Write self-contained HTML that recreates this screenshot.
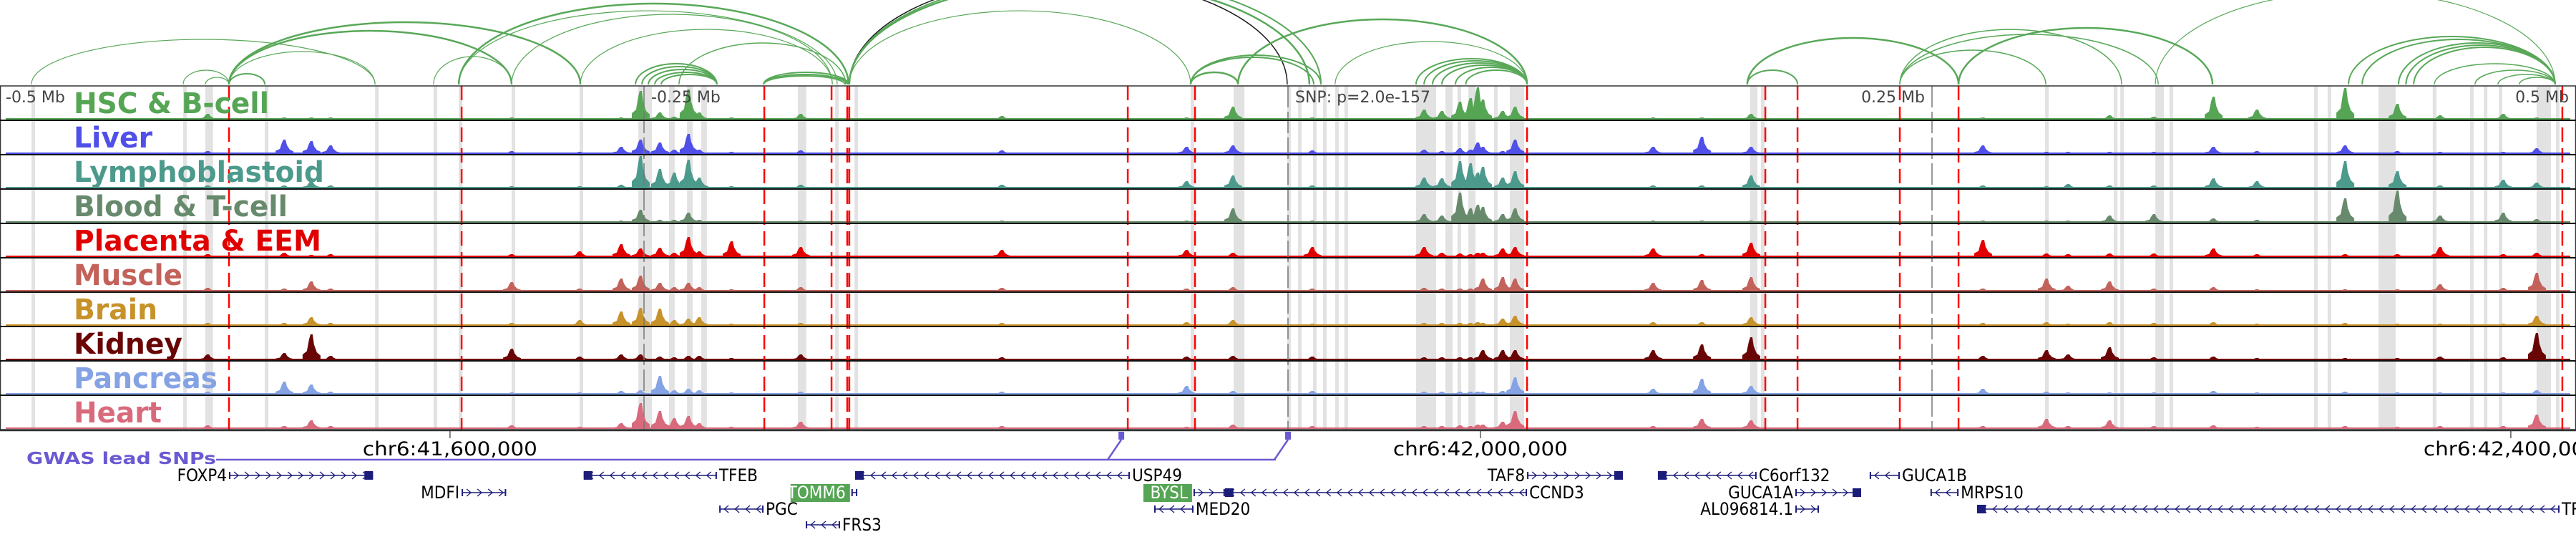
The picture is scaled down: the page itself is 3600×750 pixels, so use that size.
<!DOCTYPE html>
<html><head><meta charset="utf-8">
<style>
html,body{margin:0;padding:0;background:#fff;}
svg{display:block;}
text{font-family:"DejaVu Sans","Liberation Sans",sans-serif;}
.cond{font-family:"DejaVu Sans Condensed","DejaVu Sans","Liberation Sans",sans-serif;}
</style></head>
<body>
<svg id="chart" width="3600" height="750" viewBox="0 0 3600 750" xmlns="http://www.w3.org/2000/svg">
<g id="bands"></g>
<g id="tracks"></g>
<g id="vlines"></g>
<g id="arcs"></g>
<g id="frame"></g>
<g id="labels"></g>
<g id="axis"></g>
<g id="gwas"></g>
<g id="genes"></g>
</svg>
<script>
// ---- data ----
const snpPos = 41925300;            // lead SNP (bp)
const trackNames = ["HSC & B-cell","Liver","Lymphoblastoid","Blood & T-cell","Placenta & EEM","Muscle","Brain","Kidney","Pancreas","Heart"];
const trackColors = ["#55a555","#5050e8","#4c9a8c","#678a6c","#e00000","#c3625a","#c8922a","#6a0505","#84a2e4","#d86a7c"];
const labelWidths = [273,110,350,299,346,152,117,152,201,123];
// peak positions: offset from SNP in kb
const peakKb = [-419.4,-389.7,-379.2,-371.7,-301.4,-275.0,-258.9,-251.4,-243.9,-238.3,-232.8,-228.6,-216.1,-189.2,-111.1,-39.4,-21.4,9.4,52.8,59.7,66.7,70.8,73.6,75.6,83.3,88.1,141.7,160.6,179.7,269.7,294.4,302.8,318.9,336.1,359.2,376.1,410.3,430.6,447.2,471.7,484.7];
// heights (px) per track at each peak
const hHSC   = [8,3,3,3,3,2,3,40,10,4,42,10,3,8,5,3,18,3,14,12,25,30,45,28,12,18,3,3,8,3,2,2,6,4,32,14,44,22,6,8,3];
const hLiver = [4,20,18,12,4,3,10,20,16,6,28,6,3,5,5,10,12,5,6,4,8,6,16,10,4,20,10,24,10,12,3,3,3,3,10,4,12,4,3,3,8];
const hLymph = [4,4,10,4,3,3,5,45,27,22,40,15,3,5,5,10,18,4,15,14,38,35,22,30,15,24,4,4,18,4,3,6,4,4,14,10,38,24,4,12,8];
const hBlood = [2,2,2,2,2,2,3,18,4,4,14,4,2,3,3,3,20,3,12,10,42,20,25,22,12,20,3,3,3,3,3,3,10,12,6,4,34,46,10,14,5];
const hPlac  = [4,6,3,4,4,8,18,12,13,6,28,8,22,14,10,10,6,14,14,6,5,4,6,6,12,14,12,4,20,24,5,4,5,5,12,4,4,4,14,4,6];
const hMuscle= [5,4,14,4,13,4,18,22,12,6,12,6,3,6,5,4,6,4,5,4,4,4,6,18,20,18,12,16,20,4,18,8,14,4,6,3,3,3,10,5,26];
const hBrain = [4,4,12,4,4,8,20,25,24,8,10,12,3,4,4,5,8,3,4,4,4,4,5,4,10,14,5,5,12,4,5,3,5,4,5,3,4,3,3,3,14];
const hKidney= [8,10,36,6,16,5,8,8,5,4,6,6,3,8,4,5,6,5,4,4,4,4,4,14,14,14,14,22,32,6,14,8,18,4,5,3,3,3,5,4,38];
const hPanc  = [4,18,14,4,3,3,5,6,26,6,8,6,3,4,4,12,5,5,4,4,4,4,4,4,5,24,8,22,12,8,4,3,3,3,5,3,4,3,3,3,6];
const hHeart = [5,4,12,4,5,3,8,36,25,15,18,8,3,10,4,3,6,4,4,4,5,4,6,6,10,25,4,14,12,4,14,4,12,4,5,3,4,3,4,4,20];
const heights = [hHSC,hLiver,hLymph,hBlood,hPlac,hMuscle,hBrain,hKidney,hPanc,hHeart];
// gray highlight bands (kb offset, width kb)
const bandKb = [-487.8,-428.9,-420.3,-397.2,-354.4,-331.7,-321.9,-301.4,-275.0,-252.2,-240.3,-233.3,-227.8,-190.3,-175.8,-168.3,-37.8,-21.1,-0.3,3.9,9.7,13.6,18.3,21.9,49.7,56.1,61.1,65.8,70.0,80.0,86.1,179.4,183.6,293.9,320.6,323.1,336.7,342.2,398.3,403.6,423.3,427.2,444.4,458.9,464.2,470.0,484.7,492.2];
const bandW  = [1.4,1.4,3.0,1.4,1.4,1.4,1.4,1.4,1.4,5.3,2.2,2.2,2.2,3.3,1.4,1.4,1.4,4.2,1.4,1.4,1.4,1.4,1.4,1.4,6.7,1.4,2.8,1.4,2.8,1.4,5.6,2.8,1.4,1.4,1.4,1.4,3.3,1.4,1.4,1.4,3.9,2.8,1.4,1.4,1.4,1.4,5.6,1.4];
// red dashed lines (kb offset)
const redKb = [-411.1,-320.8,-203.3,-177.2,-171.1,-170.3,-62.2,-36.1,92.8,185.3,197.8,237.5,260.3,494.7];
// loops: anchors (kb offset) and apex heights (px above baseline)
const loopA = [-487.8,-428.9,-420.3,-411.1,-411.1,-411.1,-411.1,-331.7,-321.9,-321.9,-301.4,-274.7,-253.3,-250.8,-248.3,-245.8,-243.3,-236.4,-203.6,-203.6,-203.6,-170.3,-170.3,-170.3,-170.3,-37.8,-37.8,-37.8,-19.4,18.3,49.7,52.8,56.1,59.7,65.0,69.0,178.3,178.3,237.5,237.5,237.5,260.3,336.7,411.7,417.0,431.1,434.0,437.0,445.0,460.8,469.7,478.0];
const loopB = [-354.4,-411.1,-411.1,-397.2,-274.7,-301.4,-354.4,-301.4,-170.6,-175.0,-176.9,-176.9,-221.7,-221.7,-221.7,-221.7,-221.7,-171.7,-170.6,-171.0,-172.0,-37.8,-0.3,8.3,12.8,-19.4,12.8,10.0,92.8,92.8,92.8,92.8,92.8,92.8,92.8,92.8,197.8,260.3,294.2,323.6,337.8,358.9,491.9,491.9,491.9,491.9,491.9,491.9,491.9,491.9,491.9,491.9];
const loopH = [63,20,10,15,87,75,46,39,113,103,98,77,29,25,21,17,14,58,17,14,12,103,150,145,150,17,41,38,91,60,36,33,30,27,24,20,20,65,48,77,70,79,130,67,63,58,55,52,29,20,14,10];
const loopW = [1.2,1.2,1.2,2,2.5,2.5,1.2,1.2,2.5,1.2,1.2,1.2,2,2,2,2,2,1.5,2,2,2,1.2,1.5,2.5,2,2.5,2,2,2.5,1.2,2,2,2,2,2,2,2,2.5,1.5,1.5,1.5,2.5,1.2,2,2,2,2,2,1.5,1.5,1.5,1.5];
const loopDark = 22;
// GWAS SNPs (bp)
const gwasPos = [41860600,41925300];
// genes: name, start bp, end bp, strand, row, highlighted
const geneNames  = ["FOXP4","TFEB","USP49","TAF8","C6orf132","GUCA1B","MDFI","TOMM6","BYSL","CCND3","GUCA1A","MRPS10","PGC","MED20","AL096814.1","TRERF1","FRS3"];
const geneStart  = [41514200,41651900,41757250,42018100,42068900,42151100,41604500,41755800,41888600,41900800,42122250,42174700,41704500,41873350,42122250,42192800,41738100];
const geneEnd    = [41570100,41703600,41863900,42055300,42107200,42162800,41621800,41758100,41900800,42018100,42147800,42185600,41721700,41888600,42131400,42418900,41751400];
const geneStrand = [1,-1,-1,1,-1,-1,1,1,1,-1,1,-1,-1,-1,1,-1,-1];
const geneRow    = [0,0,0,0,0,0,1,1,1,1,1,1,2,2,2,2,3];
const geneHi     = [0,0,0,0,0,0,0,1,1,0,0,0,0,0,0,0,0];
const axisTicks = [-500,-250,0,250,500];
const axisTickLabels = ["-0.5 Mb","-0.25 Mb","SNP: p=2.0e-157","0.25 Mb","0.5 Mb"];
const chrTicks = [41600000,42000000,42400000];
const chrTickLabels = ["chr6:41,600,000","chr6:42,000,000","chr6:42,400,000"];

// ---- scales ----
const NS="http://www.w3.org/2000/svg";
const X0=1800, PXKB=3.6, TOP=120, TH=48, NT=10, BOT=TOP+TH*NT;
const xKb = kb => X0 + kb*PXKB;
const xBp = bp => X0 + (bp - snpPos)/1000*PXKB;
function mk(tag, parent, attrs){const e=document.createElementNS(NS,tag);for(const k in attrs)e.setAttribute(k,attrs[k]);parent.appendChild(e);return e;}
const G=id=>document.getElementById(id);

// bands
bandKb.forEach((b,i)=>{
  const e=mk('rect',G('bands'),{x:xKb(b),y:TOP,width:Math.max(3,bandW[i]*PXKB),height:BOT-TOP,fill:'#e2e2e2'});
  
  
});
// tracks
heights.forEach((hs,t)=>{
  const base=TOP+TH*(t+1)-1, col=trackColors[t];
  const g=mk('g',G('tracks'),{fill:col});
  
  
  mk('rect',g,{x:8,y:base-2,width:3584,height:2});
  peakKb.forEach((p,i)=>{
    const h=Math.min(hs[i],TH-3), x=xKb(p);
    const e=mk('path',g,{d:`M${x-12},${base} L${x-12},${base-h*0.22} L${x-6},${base-h*0.35} L${x-3},${base-h*0.8} L${x-1},${base-h} L${x+2},${base-h} L${x+4},${base-h*0.6} L${x+8},${base-h*0.3} L${x+13},${base-h*0.18} L${x+13},${base} Z`});
    
    
  });
});
// gray tick lines
axisTicks.slice(1,4).forEach(k=>{
  const e=mk('line',G('vlines'),{x1:xKb(k),x2:xKb(k),y1:TOP,y2:BOT,stroke:'#777','stroke-width':1.5,'stroke-dasharray':'30,6'});
  
  
});
redKb.forEach(k=>{
  const e=mk('line',G('vlines'),{x1:xKb(k),x2:xKb(k),y1:TOP,y2:BOT,stroke:'#f00','stroke-width':2.5,'stroke-dasharray':'20,9'});
  
  
});
// loops
loopA.forEach((a,i)=>{
  const x1=xKb(a), x2=xKb(loopB[i]), rx=Math.abs(x2-x1)/2, ry=loopH[i];
  const dark = i===loopDark;
  const e=mk('path',G('arcs'),{d:`M${Math.min(x1,x2)},${TOP-2} A${rx},${ry} 0 0 1 ${Math.max(x1,x2)},${TOP-2}`,fill:'none',stroke:dark?'#1a1a1a':'#58a858','stroke-width':loopW[i]});
  
  
});
// frame
mk('rect',G('frame'),{x:0.5,y:TOP,width:3599,height:BOT-TOP,fill:'none',stroke:'#333','stroke-width':1.5});
for(let t=1;t<NT;t++){mk('line',G('frame'),{x1:0,x2:3600,y1:TOP+TH*t,y2:TOP+TH*t,stroke:'#111','stroke-width':2});}
mk('line',G('frame'),{x1:0,x2:3600,y1:BOT+1,y2:BOT+1,stroke:'#333','stroke-width':2.5});
// track labels
trackNames.forEach((n,t)=>{
  const e=mk('text',G('labels'),{x:103,y:TOP+TH*t+38,fill:trackColors[t],'font-size':40,'font-weight':'bold',textLength:labelWidths[t],lengthAdjust:'spacingAndGlyphs'});
  e.textContent=n;
  
  
});
// axis labels
axisTicks.forEach((k,i)=>{
  let x=xKb(k)+10, anchor='start';
  if(k>0){x=xKb(k)-10;anchor='end';}
  if(k===-500)x=8;
  const e=mk('text',G('axis'),{x:x,y:143,fill:'#444','font-size':22,'text-anchor':anchor});
  e.textContent=axisTickLabels[i];
  
  
});
chrTicks.forEach((c,i)=>{
  const x=xBp(c);
  mk('line',G('axis'),{x1:x,x2:x,y1:BOT+2,y2:BOT+12,stroke:'#333','stroke-width':1.2});
  const e=mk('text',G('axis'),{x:x,y:636,fill:'#000','font-size':27,'text-anchor':'middle',textLength:244,lengthAdjust:'spacingAndGlyphs','class':'cond'});
  e.textContent=chrTickLabels[i];
  
  
});
// GWAS
{
  const col='#6a5ad2', g=G('gwas');
  const t=mk('text',g,{x:37,y:648,fill:col,'font-size':23,'font-weight':'bold',textLength:265,lengthAdjust:'spacingAndGlyphs'});
  t.textContent='GWAS lead SNPs';
  
  
  const last=xBp(gwasPos[gwasPos.length-1]);
  mk('line',g,{x1:302,x2:last-17,y1:642,y2:642,stroke:col,'stroke-width':2.5});
  gwasPos.forEach(p=>{
    const x=xBp(p);
    mk('line',g,{x1:x-19,x2:x,y1:642,y2:614,stroke:col,'stroke-width':2.5});
    const r=mk('rect',g,{x:x-4,y:603,width:8,height:9,fill:col});
    
    
    mk('rect',g,{x:x-4,y:612,width:8,height:2,fill:col});
  });
}
// genes
{
  const rowY=[664,688,711,733], col='#1c1c7a', g=G('genes');
  geneNames.forEach((n,i)=>{
    const x1=xBp(geneStart[i]), x2=xBp(geneEnd[i]), y=rowY[geneRow[i]];
    const gg=mk('g',g,{});
    
    
    mk('line',gg,{x1:x1,x2:x2,y1:y,y2:y,stroke:col,'stroke-width':1.6});
    for(let x=x1+10;x<x2-6;x+=15){
      const d=geneStrand[i]>0?`M${x-3},${y-5} L${x+3},${y} L${x-3},${y+5}`:`M${x+3},${y-5} L${x-3},${y} L${x+3},${y+5}`;
      mk('path',gg,{d:d,fill:'none',stroke:col,'stroke-width':1.3});
    }
    mk('rect',gg,{x:x1,y:y-5,width:2,height:10,fill:col});
    mk('rect',gg,{x:x2-2,y:y-5,width:2,height:10,fill:col});
    if(x2-x1>80){
      const tx=geneStrand[i]>0?x2-12:x1;
      mk('rect',gg,{x:tx,y:y-6,width:12,height:12,fill:col});
    }
    const leftLabel = geneStrand[i]>0 || geneHi[i];
    const lx = leftLabel? x1-3 : x2+3;
    const anchor = leftLabel? 'end':'start';
    if(geneHi[i]){
      const w=n.length*15+8;
      mk('rect',gg,{x:x1-w-2,y:y-12,width:w,height:25,fill:'#55a555'});
    }
    const t=mk('text',gg,{x:geneHi[i]?lx-5:lx,y:y+8,'font-size':24,'text-anchor':anchor,fill:geneHi[i]?'#fff':'#000','class':'cond'});
    t.textContent=n;
  });
}
</script>
</body></html>
